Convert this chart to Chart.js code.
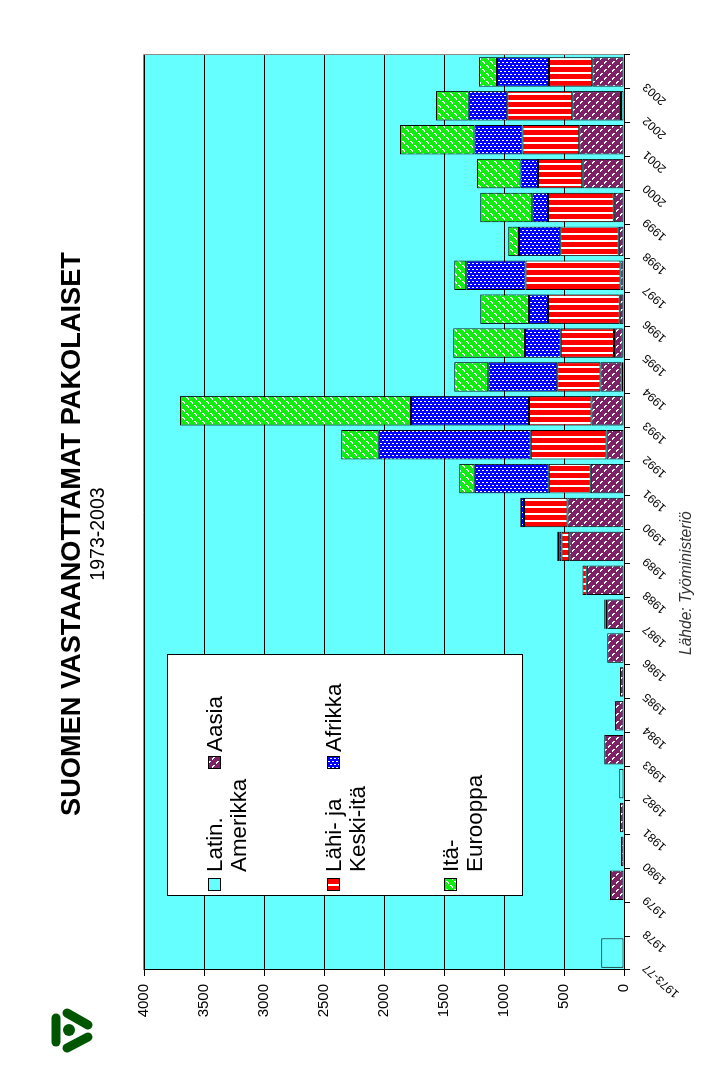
<!DOCTYPE html>
<html><head><meta charset="utf-8">
<style>
html,body{margin:0;padding:0;background:#fff;width:718px;height:1074px;overflow:hidden}
#wrap{position:absolute;left:0;top:1068px;width:1068px;height:718px;transform-origin:0 0;transform:rotate(-90deg)}
#logo{position:absolute;left:45px;top:1005px}
</style>
<script src="https://cdn.jsdelivr.net/npm/chart.js@4/dist/chart.umd.min.js"></script>
</head><body>
<div id="wrap"><canvas id="c" width="1068" height="718"></canvas></div>
<svg id="logo" width="55" height="55" viewBox="0 0 55 55">
<g stroke="#005500" stroke-width="9" stroke-linecap="round" fill="none">
<line x1="11" y1="13" x2="11" y2="37"/><line x1="22" y1="8" x2="43" y2="20"/><line x1="22" y1="43" x2="43" y2="32"/></g>
<circle cx="24" cy="25" r="6" fill="#005500"/></svg>
<script>
const categories=["1973-77","1978","1979","1980","1981","1982","1983","1984","1985","1986","1987","1988","1989","1990","1991","1992","1993","1994","1995","1996","1997","1998","1999","2000","2001","2002","2003"];
const latinAmerica=[189,null,null,null,null,39,null,null,null,null,null,null,null,null,null,null,10,20,10,null,null,null,null,null,null,25,null];
const asia=[null,null,117,25,33,null,164,75,33,139,140,311,456,470,278,145,260,175,73,36,30,44,86,347,373,406,264];
const middleEast=[null,null,null,null,null,null,null,null,null,null,15,35,64,364,350,633,522,361,445,598,790,487,548,370,472,542,361];
const africa=[null,null,null,null,null,null,null,null,null,null,6,null,20,25,615,1265,984,575,298,158,495,345,130,145,400,320,434];
const easternEurope=[null,null,null,null,null,null,null,null,null,null,6,null,16,6,130,314,1924,284,597,406,100,89,434,364,622,274,149];
const seriesNames=["Latin. Amerikka","Aasia","Lähi- ja Keski-itä","Afrikka","Itä-Eurooppa"];
const legendLines=[["Latin.","Amerikka"],["Aasia"],["Lähi- ja","Keski-itä"],["Afrikka"],["Itä-","Eurooppa"]];
const valueTicksMax=4000, valueTickStep=500;

function tile(w,h,bg,isWhite){
  const t=document.createElement('canvas');t.width=w;t.height=h;
  const g=t.getContext('2d');g.fillStyle=bg;g.fillRect(0,0,w,h);g.fillStyle='#fff';
  for(let y=0;y<h;y++)for(let x=0;x<w;x++)if(isWhite(x,y))g.fillRect(x,y,1,1);
  return document.getElementById('c').getContext('2d').createPattern(t,'repeat');
}
const fillLatin='#66FFFF';
const fillAsia=tile(8,8,'#7E2268',(x,y)=>(x-y+16)%8<2&&(x+y)%8<5);
const fillMiddle=tile(7,1,'#FF0000',(x)=>x<2);
const fillAfrica=tile(6,4,'#0000FF',(x,y)=>(y<2&&x==0)||(y>=2&&x==3));
const fillEast=tile(8,8,'#10EE10',(x,y)=>(x+y)%8<2&&(x-y+16)%8<5);
const fills=[fillLatin,fillAsia,fillMiddle,fillAfrica,fillEast];
const values=[latinAmerica,asia,middleEast,africa,easternEurope];

const plotBackdrop={id:'plotBackdrop',
  afterLayout(ch){ch.scales.y.left-=20;},
  beforeDraw(ch){
    const {ctx,chartArea:a}=ch;ctx.save();
    ctx.fillStyle='#66FFFF';ctx.fillRect(a.left,a.top,a.right-a.left,a.bottom-a.top);
    ctx.strokeStyle='#8a8a8a';ctx.lineWidth=1;ctx.beginPath();
    ctx.moveTo(a.left,a.top-0.5);ctx.lineTo(a.right+0.5,a.top-0.5);ctx.lineTo(a.right+0.5,a.bottom);ctx.stroke();
    ctx.restore();
  },
  afterDraw(ch){
    const ctx=ch.ctx;ctx.save();
    ctx.fillStyle='#fff';ctx.strokeStyle='#000';ctx.lineWidth=1;
    ctx.fillRect(172.5,167.5,241,355);ctx.strokeRect(172.5,167.5,241,355);
    const spots=[[177,196,222],[299,316,222],[177,196,341],[299,316,341],[177,196,458]];
    ctx.font='22.4px "Liberation Sans"';ctx.textBaseline='alphabetic';ctx.textAlign='left';
    legendLines.forEach((lines,i)=>{
      const [sx,tx,by]=spots[i];
      ctx.fillStyle=fills[i];ctx.fillRect(sx,by-14,13,13);
      ctx.strokeStyle='#000';ctx.strokeRect(sx+.5,by-13.5,12,12);
      ctx.fillStyle='#000';
      lines.forEach((l,j)=>ctx.fillText(l,tx,by+j*24));
    });
    ctx.font='italic 15.6px "Liberation Sans"';ctx.fillStyle='#333';
    ctx.fillText('Lähde: Työministeriö',413,691);
    ctx.restore();
  }
};

new Chart(document.getElementById('c'),{
  type:'bar',
  data:{labels:categories,datasets:seriesNames.map((n,i)=>({label:n,data:values[i],backgroundColor:fills[i],borderColor:'#000',borderWidth:1,borderSkipped:false,barPercentage:.87,categoryPercentage:1}))},
  plugins:[plotBackdrop],
  options:{
    responsive:false,animation:false,devicePixelRatio:1,
    layout:{padding:{left:55,right:55,top:0,bottom:0}},
    plugins:{
      legend:{display:false},tooltip:{enabled:false},
      title:{display:true,text:'SUOMEN VASTAANOTTAMAT PAKOLAISET',color:'#000',font:{family:'"Liberation Sans"',size:27.2,weight:'bold',lineHeight:1},padding:{top:59,bottom:0}},
      subtitle:{display:true,text:'1973-2003',color:'#000',font:{family:'"Liberation Sans"',size:19.5,weight:'normal',lineHeight:1},padding:{top:3,bottom:35.3}}
    },
    scales:{
      x:{stacked:true,offset:true,afterFit(s){s.height=94},
        grid:{display:true,offset:true,drawOnChartArea:false,color:'#000',tickLength:6,lineWidth:1},
        border:{color:'#000',width:1},
        ticks:{autoSkip:false,minRotation:48,maxRotation:48,labelOffset:-13,padding:10,color:'#000',font:{family:'"Liberation Sans"',size:12}}},
      y:{stacked:true,min:0,max:valueTicksMax,afterFit(s){s.width=43},
        grid:{color:'#000',lineWidth:1,tickLength:6},
        border:{color:'#000',width:1},
        ticks:{stepSize:valueTickStep,padding:8,color:'#000',font:{family:'"Liberation Sans"',size:15},callback:v=>String(v)}}
    }
  }
});
</script></body></html>
